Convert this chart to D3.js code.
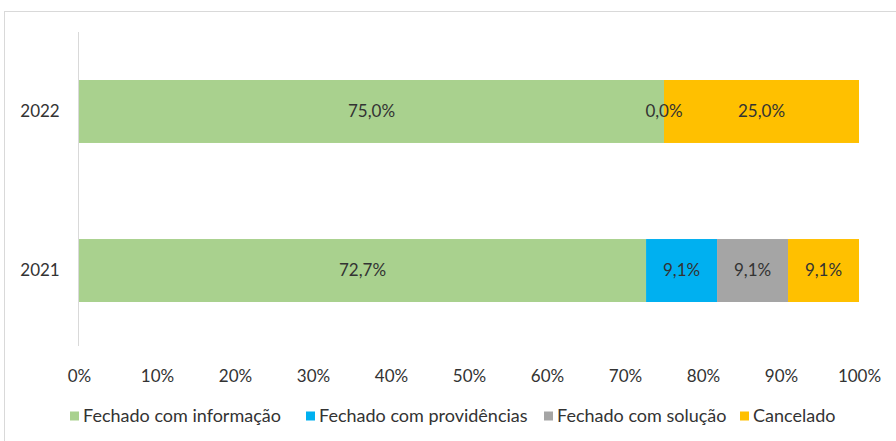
<!DOCTYPE html>
<html>
<head>
<meta charset="utf-8">
<script src="https://cdn.jsdelivr.net/npm/d3@7"></script>
<style>
  body { margin: 0; background: #fff; }
  text { font-family: Lato, "Open Sans", sans-serif; fill: #333; }
</style>
</head>
<body>
<div id="chart"></div>
<script>
// Chart data
const years = ['2022', '2021'];
const seriesNames = ['Fechado com informação', 'Fechado com providências', 'Fechado com solução', 'Cancelado'];
const seriesColors = ['#A9D18E', '#00B0F0', '#A5A5A5', '#FFC000'];
// values per year, in the order of seriesNames (null = no label drawn)
const values2022 = [75.0, 0.0, null, 25.0];
const values2021 = [72.7, 9.1, 9.1, 9.1];
const tickValues = [0, 10, 20, 30, 40, 50, 60, 70, 80, 90, 100];

const width = 896, height = 441;
const margin = { left: 79, right: 37 };
const fontSize = '17px';

const svg = d3.select('#chart').append('svg')
    .attr('width', width)
    .attr('height', height);

// outer frame
svg.append('rect')
    .attr('x', 4.5).attr('y', 11.5)
    .attr('width', 920).attr('height', 460)
    .attr('fill', '#fff')
    .attr('stroke', '#d9d9d9');

const x = d3.scaleLinear().domain([0, 100]).range([margin.left, width - margin.right]);
const y = d3.scaleBand().domain(years).range([80, 302]).paddingInner(0.604).paddingOuter(0);

// category axis line
svg.append('line')
    .attr('x1', x(0) - 0.5).attr('x2', x(0) - 0.5)
    .attr('y1', 32).attr('y2', 346)
    .attr('stroke', '#d9d9d9');

const rows = [{ year: '2022', vals: values2022 }, { year: '2021', vals: values2021 }];

rows.forEach(row => {
    let acc = 0;
    const segs = row.vals.map((v, i) => {
        const s = { i, v, x0: acc, x1: acc + (v || 0) };
        acc += (v || 0);
        return s;
    });
    const g = svg.append('g');
    g.selectAll('rect')
        .data(segs)
        .join('rect')
        .attr('x', d => x(d.x0))
        .attr('width', d => Math.max(0, x(Math.min(d.x1, 100)) - x(d.x0)))
        .attr('y', y(row.year))
        .attr('height', y.bandwidth())
        .attr('fill', d => seriesColors[d.i]);
    g.selectAll('text')
        .data(segs.filter(d => d.v !== null))
        .join('text')
        .attr('x', d => x((d.x0 + Math.min(d.x1, 100)) / 2))
        .attr('y', y(row.year) + y.bandwidth() / 2)
        .attr('dy', '0.35em')
        .attr('text-anchor', 'middle')
        .attr('font-size', fontSize)
        .text(d => d.v.toFixed(1).replace('.', ',') + '%');

    svg.append('text')
        .attr('x', 40)
        .attr('y', y(row.year) + y.bandwidth() / 2)
        .attr('dy', '0.35em')
        .attr('text-anchor', 'middle')
        .attr('font-size', fontSize)
        .text(row.year);
});

// value axis labels
const axis = svg.append('g')
    .attr('transform', `translate(0,${370})`)
    .call(d3.axisBottom(x).tickValues(tickValues).tickFormat(d => d + '%').tickSize(0).tickPadding(0));
axis.select('.domain').remove();
axis.selectAll('text')
    .attr('font-size', fontSize)
    .style('font-family', 'Lato, "Open Sans", sans-serif')
    .attr('fill', '#333');

// legend
const legendX = [70, 306, 544, 740];
const legend = svg.append('g')
    .selectAll('g')
    .data(seriesNames)
    .join('g')
    .attr('transform', (d, i) => `translate(${legendX[i]},416)`);
legend.append('rect')
    .attr('x', 0).attr('y', -4.5)
    .attr('width', 9).attr('height', 9)
    .attr('fill', (d, i) => seriesColors[i]);
legend.append('text')
    .attr('x', 13)
    .attr('dy', '0.35em')
    .attr('font-size', '18px')
    .text(d => d);
</script>
</body>
</html>
